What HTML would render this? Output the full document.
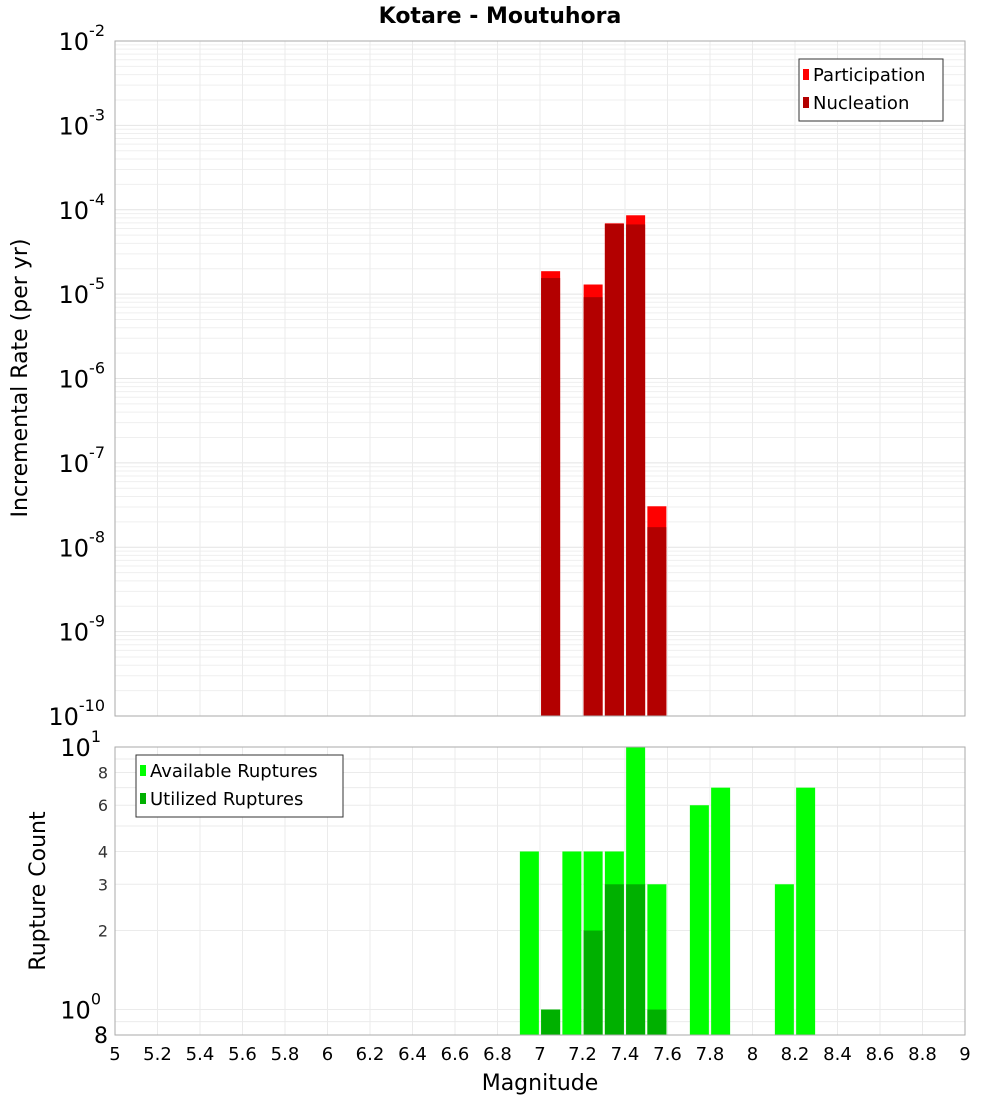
<!DOCTYPE html>
<html><head><meta charset="utf-8"><style>
body{margin:0;background:#fff;font-family:"Liberation Sans","DejaVu Sans",sans-serif}
svg text{font-family:"DejaVu Sans","Liberation Sans",sans-serif}
</style></head><body>
<svg id="c" width="1000" height="1100" xmlns="http://www.w3.org/2000/svg">
<rect width="1000" height="1100" fill="#fff"/>
<text x="500" y="23" text-anchor="middle" font-size="22" font-weight="bold">Kotare - Moutuhora</text>
<g id="topg"></g><g id="botg"></g>
<text x="540" y="1090" text-anchor="middle" font-size="22">Magnitude</text>
<text transform="translate(27,378) rotate(-90)" text-anchor="middle" font-size="22">Incremental Rate (per yr)</text>
<text transform="translate(45,891) rotate(-90)" text-anchor="middle" font-size="22">Rupture Count</text>
</svg>
<script>
const mags=[7.05,7.25,7.35,7.45,7.55];
const partRates=[1.87e-5,1.3e-5,6.9e-5,8.6e-5,3.06e-8];
const nuclRates=[1.55e-5,0.92e-5,6.8e-5,6.7e-5,1.73e-8];
const cntMags=[6.95,7.05,7.15,7.25,7.35,7.45,7.55,7.75,7.85,8.15,8.25];
const availCounts=[4,1,4,4,4,10,3,6,7,3,7];
const utilCounts=[0,1,0,2,3,3,1,0,0,0,0];
const xTicks=[5,5.2,5.4,5.6,5.8,6,6.2,6.4,6.6,6.8,7,7.2,7.4,7.6,7.8,8,8.2,8.4,8.6,8.8,9];
const topExps=[-2,-3,-4,-5,-6,-7,-8,-9,-10];
const botTickLabels=[2,3,4,6,8];

const NS="http://www.w3.org/2000/svg";
const X0=115,X1=965;
const xS=m=>X0+(m-5)/4*(X1-X0);
const T0=41,T1=716;
const yT=v=>T0+(-2-Math.log10(v))/8*(T1-T0);
const B0=747,B1=1035;
const yB=v=>B0+(1-Math.log10(v))/Math.log10(10/0.8)*(B1-B0);
function el(p,t,a,txt){const e=document.createElementNS(NS,t);for(const k in a)e.setAttribute(k,a[k]);if(txt!==undefined)e.textContent=txt;p.appendChild(e);return e;}
const topG=document.getElementById('topg'),botG=document.getElementById('botg');
for(let e=-10;e<-2;e++)for(let k=1;k<10;k++){const y=yT(k*Math.pow(10,e));el(topG,'line',{x1:X0,x2:X1,y1:y,y2:y,stroke:k==1?'#e4e4e4':'#efefef','stroke-width':1});}
for(const t of xTicks){el(topG,'line',{x1:xS(t),x2:xS(t),y1:T0,y2:T1,stroke:'#ebebeb'});el(botG,'line',{x1:xS(t),x2:xS(t),y1:B0,y2:B1,stroke:'#ebebeb'});}
for(let v=1;v<=10;v++)el(botG,'line',{x1:X0,x2:X1,y1:yB(v),y2:yB(v),stroke:'#ebebeb'});
el(botG,'line',{x1:X0,x2:X1,y1:yB(0.9),y2:yB(0.9),stroke:'#ebebeb'});
const bw=19;
mags.forEach((m,i)=>{
 let r=el(topG,'rect',{x:xS(m)-bw/2,y:yT(partRates[i]),width:bw,height:T1-yT(partRates[i]),fill:'#ff0000'});
 
 
 r=el(topG,'rect',{x:xS(m)-bw/2,y:yT(nuclRates[i]),width:bw,height:T1-yT(nuclRates[i]),fill:'#b30000'});
 
 
});
cntMags.forEach((m,i)=>{
 let r=el(botG,'rect',{x:xS(m)-bw/2,y:yB(availCounts[i]),width:bw,height:B1-yB(availCounts[i]),fill:'#00ff00'});
 
 
 if(utilCounts[i]>0){r=el(botG,'rect',{x:xS(m)-bw/2,y:yB(utilCounts[i]),width:bw,height:B1-yB(utilCounts[i]),fill:'#00b000'});
 
 }
});
el(topG,'rect',{x:X0,y:T0,width:X1-X0,height:T1-T0,fill:'none',stroke:'#aaa'});
el(botG,'rect',{x:X0,y:B0,width:X1-X0,height:B1-B0,fill:'none',stroke:'#aaa'});
topExps.forEach(e=>{const y=yT(Math.pow(10,e));const t=el(topG,'text',{x:105,y:y+9,'text-anchor':'end','font-size':24});
 
 
 el(t,'tspan',{},'10');el(t,'tspan',{dy:-14,'font-size':16},String(e));});
[[10,'1'],[1,'0']].forEach(([v,e])=>{const t=el(botG,'text',{x:101,y:yB(v)+9,'text-anchor':'end','font-size':24});
 
 
 el(t,'tspan',{},'10');el(t,'tspan',{dy:-14,'font-size':16},e);});
botTickLabels.forEach(v=>{const t=el(botG,'text',{x:108,y:yB(v)+6,'text-anchor':'end','font-size':16,fill:'#333'},String(v));
 
 });
{const t=el(botG,'text',{x:108,y:1043,'text-anchor':'end','font-size':22},'8');
 
 }
xTicks.forEach(v=>{const t=el(botG,'text',{x:xS(v),y:1060,'text-anchor':'middle','font-size':18},String(v));
 
 });
function legend(p,lx,ly,w,items){const g=el(p,'g',{});
 
 
 el(g,'rect',{x:lx,y:ly,width:w,height:items.length*28+6,fill:'#fff',stroke:'#333'});
 items.forEach(([c,l],i)=>{el(g,'rect',{x:lx+4,y:ly+10+i*28,width:6,height:11,fill:c});
 const t=el(g,'text',{x:lx+14,y:ly+22+i*28,'font-size':18},l);
 
 });}
legend(topG,799,59,144,[['#ff0000','Participation'],['#b30000','Nucleation']]);
legend(botG,136,755,207,[['#00ff00','Available Ruptures'],['#00b000','Utilized Ruptures']]);
</script>
</body></html>
